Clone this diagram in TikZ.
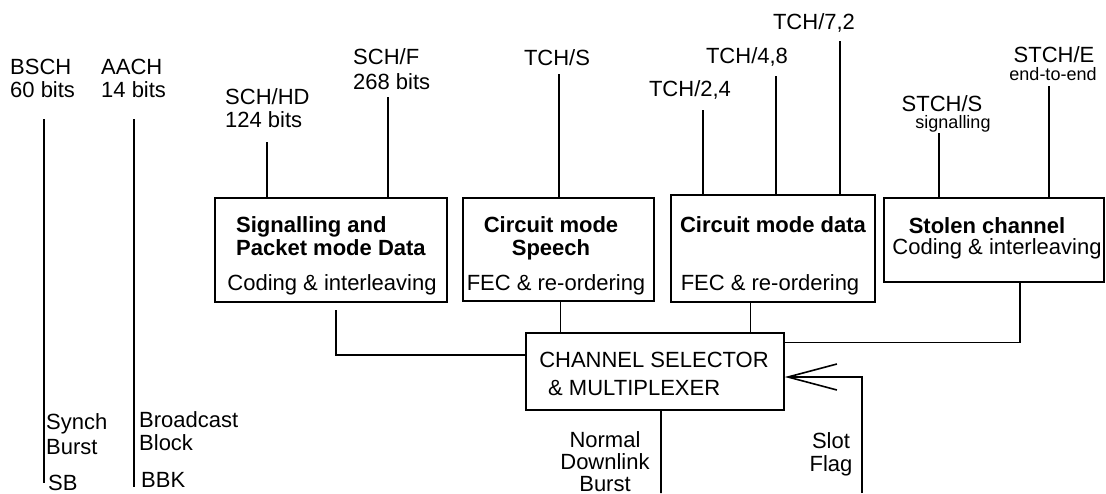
\documentclass[tikz,border=0pt]{standalone}
\usepackage{fontspec}
\setmainfont{Liberation Sans}
\usetikzlibrary{arrows.meta,calc}

\tikzset{
  wire/.style={line width=1.6pt},
  blockbox/.style={draw,line width=1.6pt,inner sep=0pt},
  lbl/.style={inner sep=0pt,font=\fontsize{22}{23}\selectfont},
  sublbl/.style={inner sep=0pt,font=\fontsize{18}{19}\selectfont},
  headlbl/.style={inner sep=0pt,font=\fontsize{22}{23}\selectfont\bfseries},
}

\begin{document}
\begin{tikzpicture}[x=1pt,y=-1pt]
  \useasboundingbox (0,0) rectangle (1106,493);

  % coding blocks and the selector
  \node[blockbox,minimum width=232pt,minimum height=104pt] (sig) at (331,250) {};
  \node[blockbox,minimum width=191pt,minimum height=103pt] (speech) at (558.5,249.5) {};
  \node[blockbox,minimum width=204pt,minimum height=107pt] (data) at (773,248.5) {};
  \node[blockbox,minimum width=220pt,minimum height=84pt] (stolen) at (994,240) {};
  \node[blockbox,minimum width=258pt,minimum height=77pt] (sel) at (655,371.5) {};

  \node[headlbl,align=left,anchor=north west] (sighead) at (236,216) {Signalling and\\Packet mode Data};
  \node[lbl,anchor=base] (sigbody) at (332,290) {Coding \& interleaving};
  \node[headlbl,align=center,anchor=north] (speechhead) at (551,216) {Circuit mode\\Speech};
  \node[lbl,anchor=base] (speechbody) at (556,290) {FEC \& re-ordering};
  \node[headlbl,anchor=base] (datahead) at (773,232) {Circuit mode data};
  \node[lbl,anchor=base] (databody) at (770,290) {FEC \& re-ordering};
  \node[headlbl,anchor=base] (stolenhead) at (987,233) {Stolen channel};
  \node[lbl,anchor=base] (stolenbody) at (997,254) {Coding \& interleaving};
  \node[lbl,anchor=base] (selone) at (654,367) {CHANNEL SELECTOR};
  \node[lbl,anchor=base west] (seltwo) at (548,395) {\& MULTIPLEXER};

  % logical channels
  \node[lbl,align=left,anchor=north west] (bsch) at (10,59) {BSCH\\60 bits};
  \node[lbl,align=left,anchor=north west] (aach) at (101,59) {AACH\\14 bits};
  \node[lbl,align=left,anchor=north west] (schhd) at (225,88) {SCH/HD\\124 bits};
  \node[lbl,align=left,anchor=north west] (schf) at (353,48) {SCH/F\\[2pt]268 bits};
  \node[lbl,anchor=base] (tchs) at (557,65) {TCH/S};
  \node[lbl,anchor=base] (tchtwo) at (690,96) {TCH/2,4};
  \node[lbl,anchor=base] (tchfour) at (747,63) {TCH/4,8};
  \node[lbl,anchor=base] (tchseven) at (814,29) {TCH/7,2};
  \node[lbl,anchor=base] (stchs) at (942,111) {STCH/S};
  \node[sublbl,anchor=base] (stchsnote) at (953,128) {signalling};
  \node[lbl,anchor=base] (stche) at (1054,62) {STCH/E};
  \node[sublbl,anchor=base] (stchenote) at (1053,80) {end-to-end};

  % bursts
  \node[lbl,align=left,anchor=north west] (synch) at (46,413) {Synch\\[2pt]Burst};
  \node[lbl,anchor=base west] (sb) at (48,490) {SB};
  \node[lbl,align=left,anchor=north west] (bcast) at (139,411) {Broadcast\\Block};
  \node[lbl,align=left,anchor=north west] (bbk) at (141,472) {BBK};
  \node[lbl,align=center,anchor=north,font=\fontsize{22}{22}\selectfont] (ndb) at (605,431) {Normal\\Downlink\\Burst};
  \node[lbl,align=center,anchor=north] (slot) at (831,432) {Slot\\Flag};

  % free ends
  \coordinate (bschtop) at (44,119);
  \coordinate (bschend) at (44,483);
  \coordinate (aachtop) at (134,119);
  \coordinate (aachend) at (134,487);
  \coordinate (hdtop) at (267,142);
  \coordinate (ftop) at (388,97);
  \coordinate (stop) at (559,74);
  \coordinate (twotop) at (703,110);
  \coordinate (fourtop) at (776,76);
  \coordinate (seventop) at (840,41);
  \coordinate (stchstop) at (939,133);
  \coordinate (stchetop) at (1049,86);
  \coordinate (sigout) at (336,310);
  \coordinate (burstend) at (661,493);
  \coordinate (flagend) at (862,493);

  \draw[wire] (bschtop) -- (bschend);
  \draw[wire] (aachtop) -- (aachend);
  \draw[wire] (hdtop) -- (hdtop |- sig.north);
  \draw[wire] (ftop) -- (ftop |- sig.north);
  \draw[wire] (stop) -- (stop |- speech.north);
  \foreach \c in {twotop,fourtop,seventop}
    \draw[wire] (\c) -- (\c |- data.north);
  \foreach \c in {stchstop,stchetop}
    \draw[wire] (\c) -- (\c |- stolen.north);

  % into the selector
  \draw[wire] (sigout) |- ($(sel.north west)!0.29!(sel.south west)$);
  \draw[wire] ($(speech.south west)!0.51!(speech.south east)$) coordinate (speechout)
    -- (speechout |- sel.north);
  \draw[wire] ($(data.south west)!0.39!(data.south east)$) coordinate (dataout)
    -- (dataout |- sel.north);
  \draw[wire] ($(stolen.south west)!0.618!(stolen.south east)$)
    |- ($(sel.north east)!0.13!(sel.south east)$);
  \draw[wire] ($(sel.south west)!0.523!(sel.south east)$) -- (burstend);
  \draw[wire,-{Straight Barb[length=49pt,width=26pt]}] (flagend)
    |- ($(sel.north east)!0.57!(sel.south east)$);
\end{tikzpicture}
\end{document}
